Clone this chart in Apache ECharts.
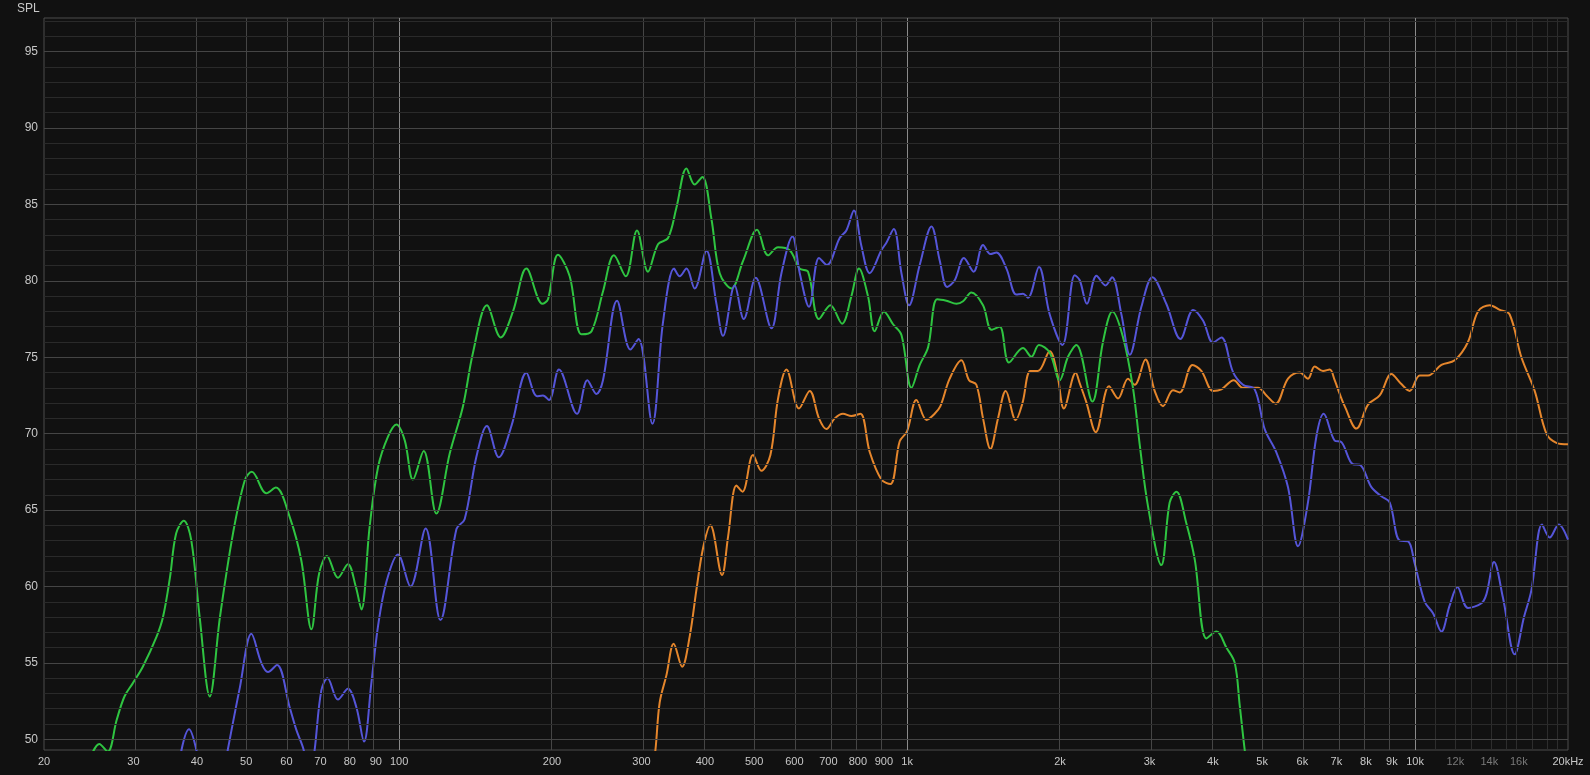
<!DOCTYPE html>
<html>
<head>
<meta charset="utf-8">
<script src="https://cdn.jsdelivr.net/npm/echarts@6/dist/echarts.min.js"></script>
<style>
html,body{margin:0;padding:0;background:#111111;}
#chart{width:1590px;height:775px;}
</style>
</head>
<body>
<div id="chart"></div>
<script>
// ---- Data (frequency in Hz, SPL in dB) ----
const greenFreq = [24.5,25.7,26.7,27.8,28.8,29.9,31.3,33.3,34.3,35.4,36.4,37.7,39.0,40.5,42.4,44.4,47.1,49.7,51.3,54.8,57.2,60.9,64.2,67.2,69.6,72.1,75.8,79.3,82.2,84.3,87.5,90.9,95.1,98.8,102.6,106.5,111.8,118.4,125.8,133.6,139.8,148.9,158.5,167.6,178.1,191.5,196.4,205.5,216.7,228.6,239.3,252,264.9,279.4,294,309,323.4,338.4,351.6,367.9,381.8,395.4,412,427.7,451,475.4,506.6,532.4,557.2,587.6,614.8,638.2,670.8,706.4,744.6,777,804,837.6,863.4,900.6,938.4,974.8,1020,1059,1100,1146,1195,1251,1289,1338,1411,1466,1522,1587,1691,1757,1818,1909,1997,2074,2154,2316,2430,2536,2662,2784,2870,2980,3166,3288,3390,3548,3684,3884,4064,4252,4416,4516,4620,4800];
const greenSpl = [48.5,49.7,49.2,51.26,52.8,53.66,54.75,56.7,58.0,60.6,63.46,64.3,63.0,58.0,52.8,58.0,63.46,66.95,67.5,66.1,66.47,64.55,61.7,57.2,60.85,62.0,60.57,61.46,59.98,58.5,63.9,67.8,69.8,70.6,69.56,67.0,68.87,64.77,68.7,71.8,75.3,78.4,76.3,78.0,80.8,78.5,78.8,81.7,80.3,76.5,76.7,79.3,81.67,80.3,83.3,80.6,82.4,82.8,84.8,87.35,86.3,86.8,84.05,80.5,79.5,81.3,83.35,81.67,82.2,82.0,80.8,80.6,77.5,78.4,77.2,79.0,80.8,79.0,76.7,78.0,77.16,76.46,73.0,74.5,75.66,78.8,78.7,78.5,78.66,79.24,78.4,76.8,77.0,74.66,75.6,75.03,75.8,75.3,73.5,75.03,75.8,72.1,76.0,78.0,76.3,73.0,69.3,65.26,61.4,65.5,66.2,64.1,61.76,56.6,57.05,56.0,55.0,52.24,49.3,45.0];

const blueFreq = [35.5,37.3,38.6,39.9,43,46.0,48.6,51.2,53.6,55.2,57.5,60.9,62.8,64.9,66.6,68.2,70.3,72.3,75.8,79.3,82.4,85.3,88.2,90.9,94.4,99.5,105.3,112.8,120.6,129.7,134.6,142,148.9,157.1,166.4,178.1,186.8,192,197.3,206.4,224,234.8,244.6,252,268.6,285.4,296,315.2,330.8,347.8,356.8,367.9,381.8,402.8,421.4,434.2,457.8,477,503.6,540.8,565.8,594.8,614.8,641.2,670.8,695.4,736.8,759.4,786,812.8,844.2,890,910.6,941.4,974.8,1009,1059,1117,1160,1199,1241,1294,1352,1411,1459,1499,1569,1641,1691,1730,1818,1909,2022,2138,2187,2260,2360,2458,2532,2642,2744,2892,3040,3238,3452,3658,3824,4002,4156,4382,4584,4834,5058,5330,5622,5882,6154,6392,6608,6946,7162,7548,7780,8204,8584,8912,9326,9684,9984,10446,10848,11268,11698,12116,12710,13508,13820,14302,14894,15708,16384,16944,17776,18408,19176,20000];
const blueSpl = [45,49.3,50.65,49.3,44,49.3,53.4,56.9,54.97,54.4,54.86,52.1,50.6,49.3,47,49.3,53.2,53.99,52.6,53.3,52.1,49.85,53.7,57.4,60.3,62.1,60.0,63.8,57.8,63.76,64.4,68.5,70.5,68.45,70.5,73.98,72.45,72.5,72.2,74.2,71.3,73.5,72.6,73.5,78.7,75.5,76.2,70.65,77.3,80.8,80.3,80.8,79.5,81.97,78.5,76.4,79.7,77.5,80.2,76.9,80.5,82.9,80.5,78.3,81.5,81.04,82.8,83.3,84.6,82.3,80.5,82.0,82.5,83.4,80.5,78.4,81.04,83.55,81.3,79.6,80.04,81.5,80.6,82.35,81.75,81.85,80.8,79.1,79.16,78.9,80.9,77.8,75.8,80.37,80.04,78.5,80.34,79.7,80.24,77.8,75.16,78.3,80.24,78.5,76.2,78.1,77.4,75.96,76.3,74.03,73.2,72.9,70.3,68.8,66.5,62.64,65.5,69.8,71.3,69.55,69.45,68.0,67.97,66.5,65.9,65.5,63.0,62.96,61.5,59.0,58.25,57.05,58.76,59.96,58.6,58.9,59.5,61.6,59.26,55.56,58.0,59.76,64.06,63.2,64.06,63.06];

const orangeFreq = [310,319.6,325.8,336,347.2,360.6,373.4,384.8,396.6,410,432.2,444.2,461.4,474.2,497.4,516.6,538.2,557.2,578.8,612.8,643.2,670.8,693.6,720.4,747.8,777,809.2,844.2,890,927.2,967.2,999.8,1043,1092,1133,1163,1213,1279,1324,1369,1411,1459,1510,1564,1636,1687,1749,1810,1909,1973,2036,2148,2187,2254,2352,2498,2602,2722,2806,2946,3072,3190,3338,3440,3646,3798,4002,4156,4396,4584,4908,5098,5316,5622,5928,6154,6344,6588,6792,6946,7106,7268,7666,8080,8518,8982,9362,9760,10212,10604,11268,11968,12710,13300,14028,14678,15354,16192,17196,18136,18978,20000];
const orangeSpl = [46,49.3,52.4,54.2,56.25,54.75,56.75,59.76,62.5,64.0,60.75,63.25,66.6,66.2,68.6,67.57,68.6,72.3,74.2,71.65,72.8,71.0,70.3,71.0,71.3,71.15,71.3,68.8,67.0,66.7,69.5,70.15,72.2,70.9,71.3,71.8,73.6,74.8,73.5,73.2,71.0,69.0,71.0,72.8,70.9,72.0,74.1,74.1,75.4,74.0,71.65,73.98,73.3,72.05,70.1,73.1,72.3,73.6,73.2,74.85,72.8,71.8,72.84,72.7,74.5,74.1,72.8,72.9,73.5,73.0,73.0,72.5,71.96,73.6,74.0,73.6,74.4,74.1,74.2,73.5,72.6,71.8,70.33,71.9,72.5,73.9,73.3,72.8,73.8,73.8,74.5,74.8,76.0,78.0,78.4,78.1,77.8,75.0,72.8,70.0,69.4,69.3];

// ---- Axis ticks ----
const xTickFreqs = [20,30,40,50,60,70,80,90,100,200,300,400,500,600,700,800,900,1000,2000,3000,4000,5000,6000,7000,8000,9000,10000,12000,14000,16000,20000];
const xTickLabels = ['20','30','40','50','60','70','80','90','100','200','300','400','500','600','700','800','900','1k','2k','3k','4k','5k','6k','7k','8k','9k','10k','12k','14k','16k','20kHz'];
const dimTickLabels = ['12k','14k','16k'];
const yTickValues = [50,55,60,65,70,75,80,85,90,95];
const yAxisLabel = 'SPL';

// ---- Build ----
const lg = Math.log10;
const toPts = (fs, vs) => fs.map((f, i) => [lg(f), vs[i]]);

const yMin = 49.3, yMax = 97.2;
const vGrid = [];
for (let d = 10; d <= 10000; d *= 10) {
  for (let m = 1; m <= 9; m++) {
    const f = d * m;
    if (f <= 20 || f >= 20000) continue;
    let color = '#454545';
    if (m === 1) color = '#8a8a8a';
    if (d === 10000 && m > 1) color = '#2d2d2d';
    vGrid.push({ xAxis: lg(f), lineStyle: { color: color, width: 1, type: 'solid' } });
  }
}
for (let f = 11000; f < 20000; f += 1000) {
  vGrid.push({ xAxis: lg(f), lineStyle: { color: '#2d2d2d', width: 1, type: 'solid' } });
}
const hGrid = [];
for (let v = 50; v <= 97; v++) {
  hGrid.push({ yAxis: v, lineStyle: { color: v % 5 === 0 ? '#454545' : '#2a2a2a', width: 1, type: 'solid' } });
}

function fmtX(val) {
  let best = 0, bd = Infinity;
  xTickFreqs.forEach((f, i) => { const d = Math.abs(lg(f) - val); if (d < bd) { bd = d; best = i; } });
  const t = xTickLabels[best];
  return dimTickLabels.includes(t) ? '{dim|' + t + '}' : t;
}

const chart = echarts.init(document.getElementById('chart'));
chart.setOption({
  animation: false,
  backgroundColor: '#111111',
  textStyle: { fontFamily: 'Liberation Sans, Arial, sans-serif' },
  graphic: [{
    type: 'text', left: 17, top: 3,
    style: { text: yAxisLabel, fill: '#c8c8c8', font: '12px "Liberation Sans", Arial, sans-serif' }
  }],
  grid: { left: 44, right: 22, top: 18, bottom: 25, show: true, borderColor: '#4d4d4d', borderWidth: 1, backgroundColor: '#111111', containLabel: false },
  xAxis: {
    type: 'value', min: lg(20), max: lg(20000),
    axisLine: { show: false }, axisTick: { show: false }, splitLine: { show: false },
    axisLabel: {
      customValues: xTickFreqs.map(lg), formatter: fmtX, color: '#c8c8c8', fontSize: 11, margin: 6,
      rich: { dim: { color: '#7a7a7a', fontSize: 11 } }
    }
  },
  yAxis: {
    type: 'value', min: yMin, max: yMax,
    axisLine: { show: false }, axisTick: { show: false }, splitLine: { show: false },
    axisLabel: { customValues: yTickValues, color: '#c8c8c8', fontSize: 12, margin: 6 }
  },
  series: [
    {
      type: 'line', data: [], silent: true, z: 1,
      markLine: { silent: true, symbol: ['none', 'none'], label: { show: false }, animation: false, data: vGrid.concat(hGrid) }
    },
    { name: 'green', type: 'line', data: toPts(greenFreq, greenSpl), smooth: 0.35, showSymbol: false, clip: true, z: 3,
      lineStyle: { color: '#2fc441', width: 2 } },
    { name: 'blue', type: 'line', data: toPts(blueFreq, blueSpl), smooth: 0.35, showSymbol: false, clip: true, z: 4,
      lineStyle: { color: '#5555d8', width: 2 } },
    { name: 'orange', type: 'line', data: toPts(orangeFreq, orangeSpl), smooth: 0.35, showSymbol: false, clip: true, z: 2,
      lineStyle: { color: '#e5862c', width: 2 } }
  ]
});
</script>
</body>
</html>
